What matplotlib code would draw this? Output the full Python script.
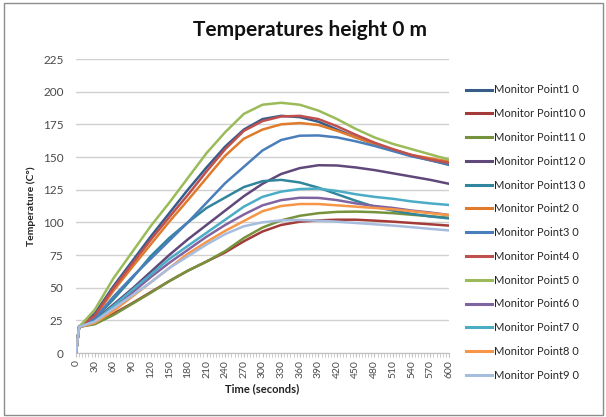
import matplotlib
matplotlib.use("Agg")
import matplotlib.pyplot as plt
from matplotlib.patches import Rectangle
from matplotlib.ticker import MultipleLocator

# Sampling times (s): start value, first logged step, then every 30 s
time_s = [0, 5] + list(range(30, 601, 30))

# Temperatures (deg C) per monitor point at the times above
p1 = [0, 20, 30, 51, 70, 89, 107, 125, 142, 158, 171, 179, 181.5, 180.5, 177, 171, 165, 160, 155, 151, 147.5, 144]
p10 = [0, 20, 22.5, 30, 38, 46.5, 55, 63, 70, 77, 85.5, 93, 98, 100.5, 101.5, 102, 102, 101.3, 100.5, 99.5, 98.5, 97.5]
p11 = [0, 20, 22, 29, 37.5, 46, 55, 63, 70, 78, 88, 96, 101.5, 105, 107, 108, 108.2, 107.8, 107, 105.8, 104.7, 103.5]
p12 = [0, 20, 25, 37, 49, 62, 75, 87, 98, 109, 120, 129.5, 137, 141.5, 143.7, 143.5, 142, 140, 137.5, 135, 132.5, 129.5]
p13 = [0, 20, 26, 41, 57, 74, 88, 100, 111, 119, 127, 131.5, 132.5, 130.5, 126.5, 121.5, 116.5, 112, 109, 106.5, 104.5, 103]
p2 = [0, 20, 27.5, 47.5, 65.5, 83, 100.5, 117, 134, 151, 164, 171, 175, 176, 174.5, 170, 165, 160, 155.5, 151.5, 149, 146.5]
p3 = [0, 20, 26, 43, 58, 72, 86, 100, 115, 130, 142.5, 155, 163, 166.3, 166.5, 165, 162, 158.5, 154.5, 150.5, 147.5, 144.5]
p4 = [0, 20, 28.5, 49.5, 68, 86.5, 104, 121, 139, 156, 170, 177.5, 181, 181.5, 179, 173.5, 167, 161, 156, 151.5, 148, 145.5]
p5 = [0, 20, 33, 57, 77, 97, 115, 134, 153, 169, 183, 190, 191.5, 190, 185.5, 179, 171.5, 165, 160, 156, 152, 148]
p6 = [0, 20, 23.5, 34, 46, 58, 69, 79, 89, 98, 106, 113, 117, 118.8, 118.7, 117, 114.5, 112.5, 111, 109, 107.5, 105.6]
p7 = [0, 20, 24, 36, 48, 60, 72, 82, 92, 102, 112, 119.5, 123.5, 125.5, 125.8, 124, 121.5, 119.5, 118, 116, 114.5, 113.3]
p8 = [0, 20, 23, 32, 43, 54, 65, 76, 85, 93.5, 101, 108.5, 112.5, 114, 114, 113, 112, 111, 110, 108.5, 107, 105.6]
p9 = [0, 20, 24, 34, 44, 54, 65, 74, 83, 91, 97, 100, 101.5, 101.8, 101.3, 100.5, 99.5, 98.5, 97.5, 96.3, 95, 93.8]

series_names = ["Monitor Point1 0", "Monitor Point10 0", "Monitor Point11 0",
                "Monitor Point12 0", "Monitor Point13 0", "Monitor Point2 0",
                "Monitor Point3 0", "Monitor Point4 0", "Monitor Point5 0",
                "Monitor Point6 0", "Monitor Point7 0", "Monitor Point8 0",
                "Monitor Point9 0"]
series_values = [p1, p10, p11, p12, p13, p2, p3, p4, p5, p6, p7, p8, p9]
series_colors = ["#385D8A", "#A33B38", "#76923C", "#60497A", "#31859C", "#E07B2C",
                 "#4A7EBB", "#C0504D", "#9BBB59", "#8064A2", "#4BACC6", "#F79646",
                 "#A7BDE0"]

plt.rcParams["font.family"] = ["Lato", "DejaVu Sans"]

W, H = 606, 417
fig = plt.figure(figsize=(W / 100, H / 100), dpi=100)
fig.patch.set_facecolor("white")

# chart frame
fig.patches.append(Rectangle((4 / W, 2 / H), 599 / W, 412 / H, transform=fig.transFigure,
                             fill=False, edgecolor="#8c8c8c", linewidth=1.0))

ax = fig.add_axes([76 / W, (H - 353) / H, (449 - 76) / W, (353 - 59) / H])

for name, vals, col in zip(series_names, series_values, series_colors):
    ax.plot(time_s, vals, color=col, lw=1.8, label=name, solid_joinstyle="round")

ax.set_xlim(0, 600)
ax.set_ylim(0, 225)
ax.yaxis.set_major_locator(MultipleLocator(25))
ax.xaxis.set_major_locator(MultipleLocator(30))
ax.xaxis.set_minor_locator(MultipleLocator(5))
ax.grid(axis="y", color="#d0d0d0", lw=1.0)
ax.set_axisbelow(True)
for s in ["top", "right", "left"]:
    ax.spines[s].set_visible(False)
ax.spines["bottom"].set_color("#c0c0c0")
ax.tick_params(axis="y", length=0, pad=9, labelsize=8.5, labelcolor="#4a4a4a")
ax.tick_params(axis="x", which="both", length=3, color="#c0c0c0", direction="out")
ax.tick_params(axis="x", labelsize=7.5, labelcolor="#4a4a4a", labelrotation=90, pad=2)

ax.set_xlabel("Time (seconds)", fontsize=8, fontweight="bold", color="#222222", labelpad=4)
ax.set_ylabel("Temperature (C°)", fontsize=7.5, fontweight="bold", color="#222222", labelpad=5)

fig.text(310 / W, 1 - 30 / H, "Temperatures height 0 m", ha="center", va="center",
         fontsize=15, fontweight="bold", color="#111111")

leg = fig.legend(loc="upper left", bbox_to_anchor=(462 / W, 1 - 80 / H), frameon=False,
                 fontsize=8, labelspacing=1.15, handlelength=2.3, handletextpad=0.2,
                 borderaxespad=0)
for t in leg.get_texts():
    t.set_color("#262626")
for l in leg.get_lines():
    l.set_linewidth(2.2)

fig.savefig("out.png", dpi=100)
